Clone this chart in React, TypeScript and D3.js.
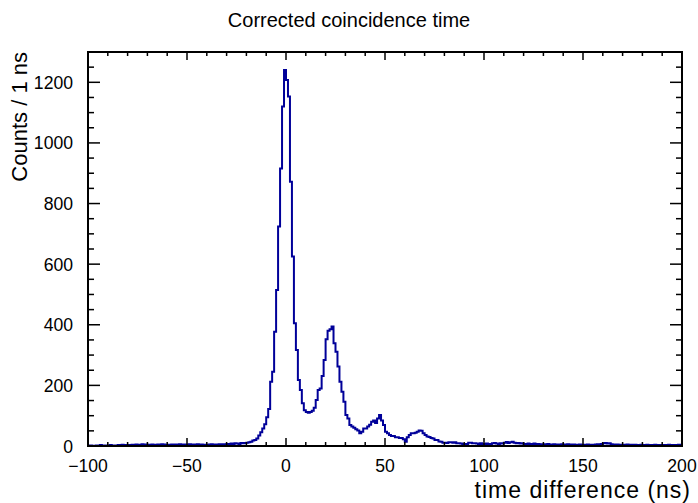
import React from "react";
import * as d3 from "d3";

// ---- data (counts per 1 ns bin, from -100 ns to 200 ns) ----
const binLow = -100;
const binHigh = 200;
const counts: number[] = [
  1, 2, 1, 0, 2, 1, 3, 1, 2, 2,
  1, 3, 2, 2, 1, 3, 2, 4, 2, 3,
  3, 2, 4, 3, 5, 3, 4, 6, 4, 5,
  3, 4, 5, 4, 3, 5, 4, 6, 5, 4,
  4, 3, 5, 4, 5, 3, 6, 4, 5, 5,
  4, 6, 5, 4, 5, 6, 3, 5, 4, 3,
  4, 5, 6, 4, 5, 5, 6, 4, 6, 5,
  7, 6, 8, 7, 9, 8, 7, 10, 9, 10,
  11, 12, 14, 18, 20, 25, 35, 45, 58, 72,
  95, 122, 212, 245, 377, 515, 724, 916, 1120, 1241,
  1208, 1153, 872, 625, 405, 317, 218, 185, 141, 118,
  112, 110, 112, 116, 126, 152, 185, 190, 231, 284,
  352, 380, 385, 394, 339, 311, 262, 212, 179, 146,
  102, 91, 69, 64, 60, 55, 51, 42, 47, 58,
  58, 64, 70, 80, 84, 76, 91, 102, 84, 69,
  47, 42, 36, 33, 33, 29, 29, 26, 26, 22,
  14, 29, 36, 42, 42, 44, 47, 51, 50, 42,
  36, 31, 30, 26, 25, 20, 20, 15, 14, 11,
  11, 10, 12, 12, 11, 12, 9, 9, 8, 7,
  7, 6, 11, 11, 9, 9, 8, 7, 9, 7,
  7, 8, 6, 7, 9, 10, 8, 7, 9, 8,
  11, 13, 10, 12, 14, 11, 9, 10, 8, 9,
  7, 6, 8, 7, 6, 8, 5, 7, 6, 5,
  6, 5, 7, 5, 4, 6, 5, 4, 5, 6,
  5, 4, 6, 5, 4, 5, 3, 4, 5, 4,
  4, 3, 5, 4, 3, 4, 5, 6, 5, 7,
  9, 10, 8, 9, 6, 5, 4, 5, 3, 4,
  4, 3, 5, 3, 4, 2, 4, 3, 3, 4,
  3, 2, 4, 3, 2, 3, 4, 2, 3, 3,
  2, 3, 2, 4, 3, 2, 3, 2, 4, 3,
];
const xMajorTicks = [-100, -50, 0, 50, 100, 150, 200];
const yMajorTicks = [0, 200, 400, 600, 800, 1000, 1200];
const yMax = 1300;
const titleText = "Corrected coincidence time";
const xTitleText = "time difference (ns)";
const yTitleText = "Counts / 1 ns";

const W = 698;
const H = 503;
const frame = { left: 88, right: 682, top: 52, bottom: 446 };
const FONT = "'Liberation Sans', Arial, Helvetica, sans-serif";

export default function App() {
  const x = d3.scaleLinear().domain([binLow, binHigh]).range([frame.left, frame.right]);
  const y = d3.scaleLinear().domain([0, yMax]).range([frame.bottom, frame.top]);
  const binW = (binHigh - binLow) / counts.length;

  let d = `M${x(binLow)},${y(0)}`;
  counts.forEach((c, i) => {
    const x1 = x(binLow + (i + 1) * binW);
    d += `V${y(c)}H${x1}`;
  });
  d += `V${y(0)}`;

  const xMinor = d3.range(binLow, binHigh + 0.001, 10);
  const yMinor = d3.range(0, yMax + 0.001, 50);
  const fmt = d3.format("");

  const tickStroke = { stroke: "#000", strokeWidth: 1.5 } as const;

  return (
    <div style={{ position: "fixed", left: 0, top: 0 }}>
      <svg width={W} height={H} style={{ display: "block", background: "#fff" }}>
        <rect x={0} y={0} width={W} height={H} fill="#fff" />
        {/* histogram */}
        <path d={d} fill="none" stroke="#000099" strokeWidth={2} strokeLinejoin="miter" />
        {/* x ticks bottom + top */}
        {xMinor.map((t) => {
          const major = xMajorTicks.includes(t);
          const len = major ? 8 : 4;
          return (
            <g key={"xt" + t}>
              <line x1={x(t)} x2={x(t)} y1={frame.bottom} y2={frame.bottom - len} {...tickStroke} />
              <line x1={x(t)} x2={x(t)} y1={frame.top} y2={frame.top + len} {...tickStroke} />
            </g>
          );
        })}
        {/* y ticks left + right */}
        {yMinor.map((t) => {
          const major = yMajorTicks.includes(t);
          const len = major ? 12 : 6;
          return (
            <g key={"yt" + t}>
              <line x1={frame.left} x2={frame.left + len} y1={y(t)} y2={y(t)} {...tickStroke} />
              <line x1={frame.right} x2={frame.right - len} y1={y(t)} y2={y(t)} {...tickStroke} />
            </g>
          );
        })}
        {/* frame */}
        <rect
          x={frame.left}
          y={frame.top}
          width={frame.right - frame.left}
          height={frame.bottom - frame.top}
          fill="none"
          stroke="#000"
          strokeWidth={2}
        />
        {/* x labels */}
        {xMajorTicks.map((t) => (
          <text key={"xl" + t} x={x(t)} y={472} textAnchor="middle" fontFamily={FONT} fontSize={17.6} fill="#000">
            {fmt(t)}
          </text>
        ))}
        {/* y labels */}
        {yMajorTicks.map((t) => (
          <text key={"yl" + t} x={73} y={y(t) + 6.5} textAnchor="end" fontFamily={FONT} fontSize={17.6} fill="#000">
            {fmt(t)}
          </text>
        ))}
        {/* titles */}
        <text x={349} y={27} textAnchor="middle" fontFamily={FONT} fontSize={20} fill="#000">
          {titleText}
        </text>
        <text
          x={691}
          y={498}
          textAnchor="end"
          fontFamily={FONT}
          fontSize={23}
          letterSpacing={1}
          fill="#000"
        >
          {xTitleText}
        </text>
        <text
          transform={`translate(27,${frame.top}) rotate(-90)`}
          textAnchor="end"
          fontFamily={FONT}
          fontSize={22}
          fill="#000"
        >
          {yTitleText}
        </text>
      </svg>
    </div>
  );
}
